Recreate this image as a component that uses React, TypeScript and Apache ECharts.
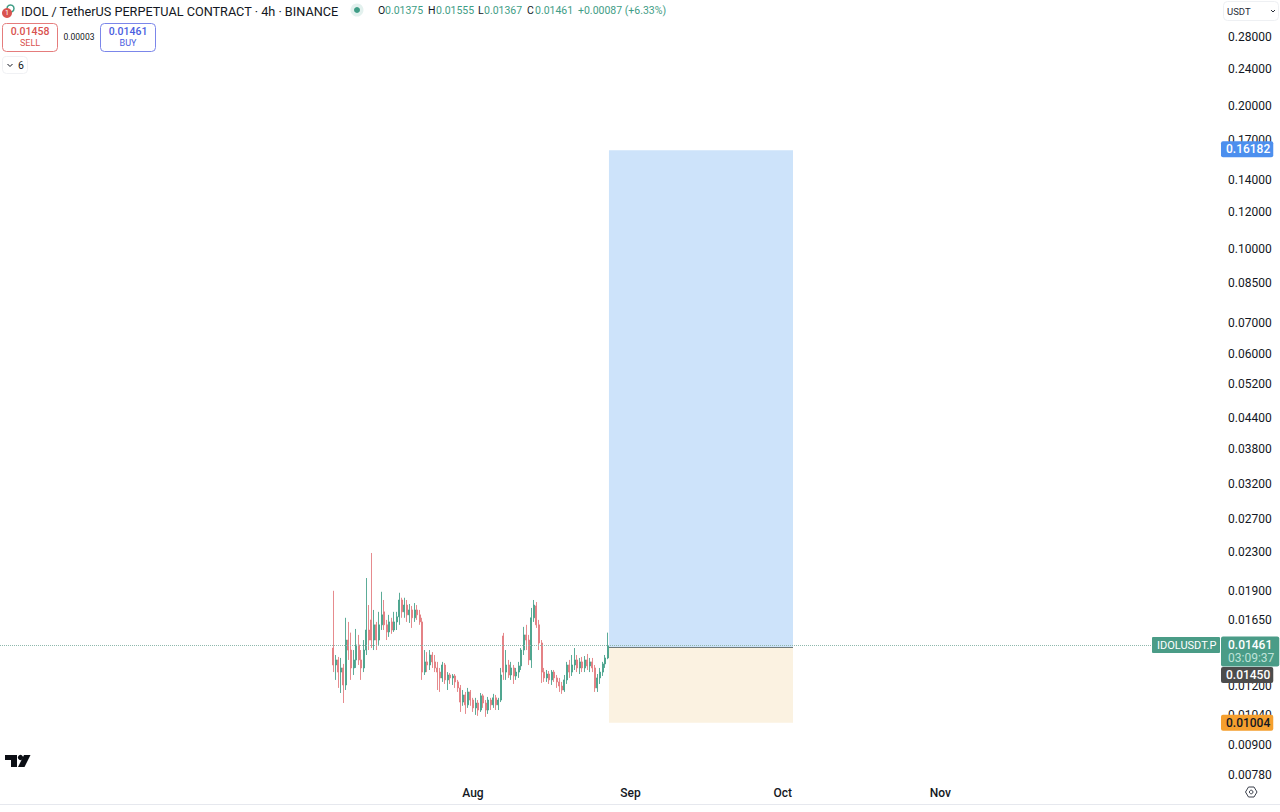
import React, { useEffect, useRef } from "react";
import * as echarts from "echarts";

const FONT = "Roboto, 'Noto Sans', sans-serif";
const UP = "#3f9d86";
const DOWN = "#e2777a";
const INK = "#131722";

const firstCandle = Date.UTC(2025, 6, 4, 12);
const candleStep = 12 * 3600 * 1000;

const opens = [
  .01443,.01329,.01362,.01284,.01310,.01206,.01500,.01429,.01310,.01362,
  .01465,.01362,.01310,.01429,.01575,.01654,.01500,.01615,.01500,.01615,
  .01720,.01615,.01560,.01638,.01575,.01638,.01679,.01822,.01720,.01778,
  .01695,.01736,.01671,.01736,.01695,.01638,.01284,.01349,.01329,.01395,
  .01349,.01310,.01284,.01248,.01329,.01236,.01266,.01248,.01260,.01224,
  .01189,.01110,.01149,.01095,.01166,.01121,.01079,.01105,.01068,.01144,
  .01105,.01068,.01121,.01095,.01133,.01095,.01121,.01530,.01284,.01329,
  .01266,.01310,.01260,.01284,.01323,.01429,.01538,.01500,.01362,.01671,
  .01770,.01615,.01479,.01284,.01248,.01272,.01236,.01284,.01248,.01224,
  .01200,.01177,.01236,.01329,.01284,.01329,.01362,.01310,.01349,.01310,
  .01362,.01323,.01349,.01310,.01189,.01248,.01284,.01336,.01375,
];
const closes = [
  .01329,.01362,.01284,.01310,.01206,.01500,.01429,.01310,.01362,.01465,
  .01362,.01310,.01429,.01575,.01500,.01500,.01615,.01500,.01615,.01695,
  .01615,.01560,.01638,.01575,.01638,.01679,.01822,.01720,.01778,.01695,
  .01736,.01671,.01736,.01695,.01638,.01284,.01349,.01329,.01395,.01349,
  .01310,.01284,.01248,.01329,.01236,.01266,.01248,.01260,.01224,.01189,
  .01110,.01149,.01095,.01166,.01121,.01079,.01105,.01068,.01144,.01105,
  .01068,.01121,.01095,.01133,.01095,.01121,.01266,.01284,.01329,.01266,
  .01310,.01260,.01284,.01323,.01429,.01538,.01500,.01362,.01671,.01778,
  .01615,.01479,.01284,.01248,.01272,.01236,.01284,.01248,.01224,.01200,
  .01177,.01236,.01329,.01284,.01329,.01362,.01310,.01349,.01310,.01362,
  .01323,.01349,.01310,.01189,.01248,.01284,.01336,.01375,.01461,
];
const lows = [
  .01284,.01236,.01189,.01160,.01105,.01177,.01362,.01236,.01266,.01310,
  .01329,.01236,.01284,.01395,.01429,.01443,.01429,.01429,.01465,.01575,
  .01575,.01500,.01523,.01546,.01560,.01575,.01615,.01671,.01671,.01638,
  .01630,.01591,.01638,.01654,.01615,.01236,.01266,.01284,.01297,.01310,
  .01284,.01177,.01166,.01224,.01212,.01177,.01212,.01206,.01189,.01166,
  .01058,.01090,.01048,.01079,.01090,.01058,.01043,.01038,.01058,.01079,
  .01033,.01048,.01068,.01079,.01068,.01068,.01110,.01236,.01236,.01248,
  .01236,.01212,.01236,.01248,.01297,.01395,.01429,.01329,.01310,.01638,
  .01591,.01429,.01218,.01224,.01224,.01212,.01206,.01224,.01189,.01166,
  .01155,.01166,.01212,.01248,.01260,.01297,.01284,.01272,.01284,.01284,
  .01297,.01284,.01284,.01166,.01166,.01212,.01260,.01310,.01367,
];
const highs = [
  .01905,.01395,.01382,.01375,.01336,.01671,.01638,.01555,.01429,.01583,
  .01538,.01429,.01500,.02027,.01778,.02289,.01736,.01638,.01720,.01896,
  .01822,.01654,.01695,.01671,.01720,.01720,.01887,.01842,.01842,.01822,
  .01787,.01770,.01795,.01778,.01736,.01671,.01429,.01415,.01429,.01415,
  .01395,.01349,.01310,.01349,.01342,.01284,.01278,.01272,.01272,.01236,
  .01206,.01177,.01166,.01189,.01177,.01133,.01133,.01121,.01160,.01155,
  .01121,.01138,.01133,.01155,.01149,.01133,.01310,.01553,.01429,.01362,
  .01349,.01329,.01310,.01349,.01443,.01599,.01615,.01538,.01753,.01822,
  .01804,.01654,.01500,.01310,.01297,.01291,.01297,.01297,.01266,.01248,
  .01224,.01266,.01349,.01362,.01395,.01443,.01395,.01375,.01382,.01388,
  .01402,.01375,.01375,.01329,.01272,.01310,.01349,.01395,.01555,
];

const priceTicks = [
  0.28, 0.24, 0.2, 0.17, 0.14, 0.12, 0.1, 0.085, 0.07, 0.06, 0.052, 0.044, 0.038,
  0.032, 0.027, 0.023, 0.019, 0.0165, 0.012, 0.0104, 0.009, 0.0078,
];
const monthTicks = [Date.UTC(2025, 7, 1), Date.UTC(2025, 8, 1), Date.UTC(2025, 9, 1), Date.UTC(2025, 10, 1)];
const monthLabels = ["Aug", "Sep", "Oct", "Nov"];

const lastPrice = 0.01461;
const entryPrice = 0.0145;
const targetPrice = 0.16182;
const stopPrice = 0.01004;
const positionStart = Date.UTC(2025, 7, 27, 18, 30);
const positionEnd = Date.UTC(2025, 9, 3, 0);

const xMin = Date.UTC(2025, 7, 1) - 93.1 * 86400000;
const xMax = Date.UTC(2025, 7, 1) + 147.05 * 86400000;
const yMin = 0.00753;
const yMax = 0.3354;

const txt = (x: number, y: number, text: string, fill: string, size: number, extra: any = {}) => ({
  type: "text",
  x,
  y,
  z: 100,
  silent: true,
  style: { text, fill, fontSize: size, fontFamily: FONT, verticalAlign: "middle", ...extra },
});
const box = (x: number, y: number, w: number, h: number, stroke: string, fill = "#ffffff") => ({
  type: "rect",
  z: 99,
  silent: true,
  shape: { x: x + 0.5, y: y + 0.5, width: w, height: h, r: 4 },
  style: { fill, stroke, lineWidth: 1 },
});
const tag = (value: number, bg: string, color: string, dy = 0) => [
  {
    coord: [xMin, value],
    lineStyle: { color: "transparent", width: 0 },
    label: {
      show: true,
      position: "end",
      distance: 1,
      offset: [0, dy],
      formatter: value.toFixed(5),
      color,
      backgroundColor: bg,
      fontFamily: FONT,
      fontSize: 12,
      fontWeight: 500,
      padding: [2, 3, 2, 5],
      borderRadius: 2,
      lineHeight: 12,
    },
  },
  { coord: [xMax, value] },
];

export default function App() {
  const ref = useRef<HTMLDivElement>(null);
  useEffect(() => {
    document.body.style.margin = "0";
    const chart = echarts.init(ref.current!, undefined, { renderer: "svg" });
    const candles = opens.map((o, i) => [firstCandle + i * candleStep, o, closes[i], lows[i], highs[i]]);
    chart.setOption({
      animation: false,
      backgroundColor: "#ffffff",
      grid: { left: 0, right: 60, top: 0, bottom: 30 },
      xAxis: {
        type: "value",
        min: xMin,
        max: xMax,
        axisLine: { show: false },
        axisTick: { show: false },
        splitLine: { show: false },
        axisLabel: {
          customValues: monthTicks,
          formatter: (v: number) => monthLabels[monthTicks.indexOf(v)] ?? "",
          color: INK,
          fontFamily: FONT,
          fontSize: 12,
          fontWeight: 500,
          margin: 5,
          hideOverlap: false,
        },
      },
      yAxis: {
        type: "log",
        position: "right",
        min: yMin,
        max: yMax,
        axisLine: { show: false },
        axisTick: { show: false },
        splitLine: { show: false },
        minorTick: { show: false },
        axisLabel: {
          customValues: priceTicks,
          formatter: (v: number) => Number(v).toFixed(5),
          color: INK,
          fontFamily: FONT,
          fontSize: 12,
          margin: 8,
          hideOverlap: false,
        },
      },
      series: [
        {
          type: "candlestick",
          data: candles,
          barWidth: 1.5,
          clip: false,
          itemStyle: {
            color: UP,
            color0: DOWN,
            borderColor: UP,
            borderColor0: DOWN,
            borderWidth: 1,
            opacity: 0.85,
          },
          markArea: {
            silent: true,
            z: 1,
            data: [
              [
                { coord: [positionStart, entryPrice], itemStyle: { color: "#cde3fa" } },
                { coord: [positionEnd, targetPrice] },
              ],
              [
                { coord: [positionStart, stopPrice], itemStyle: { color: "#fbf2e1" } },
                { coord: [positionEnd, entryPrice] },
              ],
            ],
          },
          markLine: {
            silent: true,
            symbol: "none",
            animation: false,
            data: [
              [
                {
                  coord: [xMin, lastPrice],
                  lineStyle: { color: "#8fb8ad", type: "dotted", width: 1 },
                  label: {
                    show: true,
                    position: "end",
                    distance: 1,
                    offset: [0, 6],
                    formatter: `{a|${lastPrice.toFixed(5)}}\n{b|03:09:37}`,
                    backgroundColor: "#4a9c87",
                    padding: [2, 5, 2, 7],
                    borderRadius: 2,
                    rich: {
                      a: { color: "#ffffff", fontFamily: FONT, fontSize: 12, fontWeight: 500, lineHeight: 13 },
                      b: { color: "#bfe3d9", fontFamily: FONT, fontSize: 12, lineHeight: 13 },
                    },
                  },
                },
                { coord: [xMax, lastPrice] },
              ],
              tag(targetPrice, "#4c8fee", "#ffffff", -1),
              tag(entryPrice, "#4c4c4c", "#ffffff", 28),
              tag(stopPrice, "#f59f2e", "#131722"),
              [
                { coord: [positionStart, entryPrice], lineStyle: { color: "#6f7a78", width: 1, type: "solid" }, label: { show: false } },
                { coord: [positionEnd, entryPrice] },
              ],
            ],
          },
        },
      ],
      graphic: [
        { type: "line", silent: true, z: 1, shape: { x1: 0, y1: 804.5, x2: 1280, y2: 804.5 }, style: { stroke: "#e6e8ee", lineWidth: 1 } },
        { type: "circle", silent: true, z: 100, shape: { cx: 10.5, cy: 8.5, r: 3.5 }, style: { fill: "#ffffff", stroke: "#3f9d86", lineWidth: 1.5 } },
        { type: "circle", silent: true, z: 101, shape: { cx: 7, cy: 13, r: 5 }, style: { fill: "#d9534f" } },
        { ...txt(7, 13, "1", "#ffffff", 7, { align: "center" }), z: 102 },
        txt(21, 11, "IDOL / TetherUS PERPETUAL CONTRACT · 4h · BINANCE", INK, 12.7),
        { type: "circle", silent: true, z: 99, shape: { cx: 357, cy: 10, r: 6.5 }, style: { fill: "#e3f1ee" } },
        { type: "circle", silent: true, z: 100, shape: { cx: 357, cy: 10, r: 3 }, style: { fill: "#3f9d86" } },
        txt(378, 10.5, "O", INK, 10.5),
        txt(385, 10.5, "0.01375", UP, 10.5),
        txt(428, 10.5, "H", INK, 10.5),
        txt(436, 10.5, "0.01555", UP, 10.5),
        txt(478, 10.5, "L", INK, 10.5),
        txt(484, 10.5, "0.01367", UP, 10.5),
        txt(527, 10.5, "C", INK, 10.5),
        txt(535, 10.5, "0.01461", UP, 10.5),
        txt(578, 10.5, "+0.00087 (+6.33%)", UP, 10.5),
        box(2, 23, 55, 28, "#e57c7c"),
        txt(30, 31, "0.01458", "#d9534f", 10.5, { align: "center", fontWeight: 500 }),
        txt(30, 43, "SELL", "#d9534f", 9, { align: "center" }),
        txt(79, 37, "0.00003", INK, 8.5, { align: "center" }),
        box(100, 23, 55, 28, "#7b86ea"),
        txt(128, 31, "0.01461", "#4a5de0", 10.5, { align: "center", fontWeight: 500 }),
        txt(128, 43, "BUY", "#4a5de0", 9, { align: "center" }),
        box(2, 56, 25, 17, "#f0f1f4"),
        { type: "polyline", silent: true, z: 100, shape: { points: [[7.5, 64], [10, 66.5], [12.5, 64]] }, style: { stroke: INK, lineWidth: 1, fill: "none" } },
        txt(18, 65, "6", INK, 10.5),
        box(1223, 1, 55, 19, "#eef0f3"),
        txt(1227, 11, "USDT", "#2a2e39", 9.5),
        { type: "polyline", silent: true, z: 100, shape: { points: [[1271, 10], [1273, 12], [1275, 10]] }, style: { stroke: "#2a2e39", lineWidth: 1, fill: "none" } },
        { type: "rect", silent: true, z: 99, shape: { x: 1152, y: 637, width: 68, height: 16, r: 1 }, style: { fill: "#4a9c87" } },
        txt(1157, 645.5, "IDOLUSDT.P", "#ffffff", 11),
        { type: "polygon", silent: true, z: 100, shape: { points: [[5, 755], [17, 755], [17, 767], [11, 767], [11, 760], [5, 760]] }, style: { fill: "#0b0e14" } },
        { type: "circle", silent: true, z: 100, shape: { cx: 20.5, cy: 757.5, r: 2.6 }, style: { fill: "#0b0e14" } },
        { type: "polygon", silent: true, z: 100, shape: { points: [[24, 755], [30.5, 755], [24.5, 767], [18, 767]] }, style: { fill: "#0b0e14" } },
        { type: "polygon", silent: true, z: 100, shape: { points: [[1245.5, 792], [1248.5, 787], [1254, 787], [1257, 792], [1254, 797], [1248.5, 797]] }, style: { fill: "#ffffff", stroke: "#3a3f4b", lineWidth: 1 } },
        { type: "circle", silent: true, z: 101, shape: { cx: 1251.2, cy: 792, r: 1.8 }, style: { fill: "#ffffff", stroke: "#3a3f4b", lineWidth: 1 } },
      ],
    });
    return () => chart.dispose();
  }, []);
  return <div ref={ref} style={{ width: 1280, height: 812 }} />;
}
